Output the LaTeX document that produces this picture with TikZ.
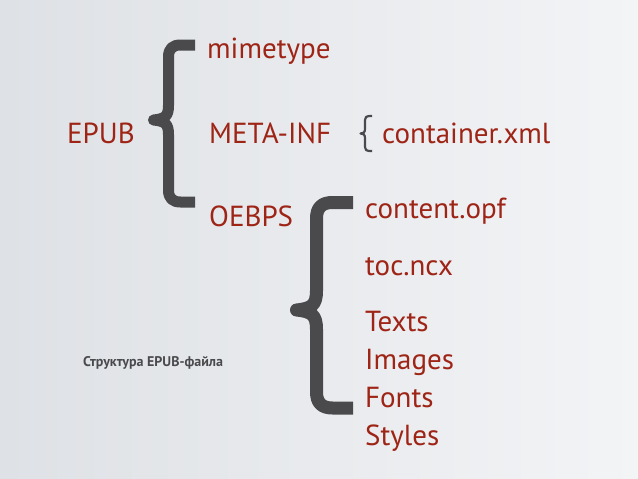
\documentclass[tikz,border=0pt]{standalone}
\usepackage{fontspec}
\setmainfont{PT Sans}
\usetikzlibrary{positioning}
\definecolor{epubred}{RGB}{158,36,22}
\definecolor{bracegray}{RGB}{74,74,76}
\definecolor{bgleft}{RGB}{222,225,229}
\definecolor{bgright}{RGB}{243,244,246}
\tikzset{
  item/.style={anchor=base west, inner sep=0pt, text=epubred, font=\fontsize{29}{31}\selectfont},
  caption/.style={anchor=base west, inner sep=0pt, text=bracegray, font=\bfseries\fontsize{14}{16}\selectfont},
  curly/.style={draw=bracegray, line join=round}
}
% brace: #2 right end, #3 stem x, #4 tip x, #5 top y, #6 middle y, #7 bottom y, #8 corner
\newcommand{\drawcurly}[8][]{%
  \draw[curly,#1] (#2,#5) -- ({#3+#8},#5) .. controls ({#3+0.35*#8},#5) and (#3,{#5+0.3*#8}) .. (#3,{#5+#8})
    -- (#3,{#6-1.2*#8}) .. controls (#3,{#6-0.3*#8}) and ({#3-0.3*#8},{#6-0.1*#8}) .. (#4,#6)
    .. controls ({#3-0.3*#8},{#6+0.1*#8}) and (#3,{#6+0.3*#8}) .. (#3,{#6+1.2*#8})
    -- (#3,{#7-#8}) .. controls (#3,{#7-0.3*#8}) and ({#3+0.35*#8},#7) .. ({#3+#8},#7) -- (#2,#7);
}
\begin{document}
\begin{tikzpicture}[x=1pt, y=-1pt]
\shade[left color=bgleft, right color=bgright] (0,0) rectangle (638,479);
\useasboundingbox (0,0) rectangle (638,479);
% root
\node[item] (epub) at (67,143) {EPUB};
\drawcurly[line width=11pt]{195}{168.5}{153.5}{45}{120}{202}{12}
% level one
\node[item] (mime) at (207,58) {mimetype};
\node[item] (meta) at (209,143) {META-INF};
\node[item] (oebps) at (209,226) {OEBPS};
% META-INF content
\drawcurly[line width=2.2pt]{372}{365}{360.5}{116}{133.5}{151}{4}
\node[item] (cont) at (382,143) {container.xml};
% OEBPS content
\drawcurly[line width=13pt]{353}{316.5}{296.5}{202.5}{310}{408}{16}
\node[item] (opf) at (365,218) {content.opf};
\node[item] (ncx) at (365,275) {toc.ncx};
\node[item] (texts) at (365,331) {Texts};
\node[item] (images) at (365,369) {Images};
\node[item] (fonts) at (365,407) {Fonts};
\node[item] (styles) at (365,445) {Styles};
% caption
\node[caption] (title) at (83,366) {Структура EPUB-файла};
\end{tikzpicture}
\end{document}
